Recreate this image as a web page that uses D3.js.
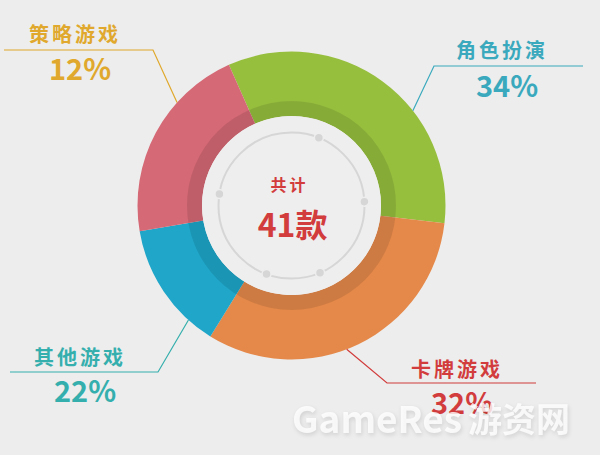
<!DOCTYPE html>
<html>
<head>
<meta charset="utf-8">
<script src="https://cdn.jsdelivr.net/npm/d3@7"></script>
<style>
  html, body { margin: 0; padding: 0; background: #ededed; }
  svg { display: block; }
  text { font-family: "Noto Sans CJK SC", "Noto Sans", sans-serif; }
</style>
</head>
<body>
<svg id="chart" width="600" height="455"></svg>
<script>
// slices, clockwise from the top-left edge of the green one
var categories = ['角色扮演', '卡牌游戏', '其他游戏', '策略游戏'];
var values = [33.5, 32, 13.5, 21];              // share of the ring
var labelPercents = ['34%', '32%', '22%', '12%']; // as printed next to each slice
var colors = ['#97bf3e', '#e5894a', '#1fa6c9', '#d56975'];
var labelColors = ['#3aa9bd', '#d23c3c', '#35afad', '#e0a82c'];
var totalLabel = '共计';
var totalValue = '41款';

var svg = d3.select('#chart');
var cx = 291.5, cy = 205.5;
var outerR = 154, ringR = 104.5, innerR = 89.5;

var pie = d3.pie().sort(null).value(function(d){ return d; })
    .startAngle(-24 * Math.PI / 180)
    .endAngle(336 * Math.PI / 180);
var arcs = pie(values);
var arc = d3.arc().innerRadius(innerR).outerRadius(outerR);

var g = svg.append('g').attr('transform', 'translate(' + cx + ',' + cy + ')');

g.selectAll('path.slice').data(arcs).enter().append('path')
    .attr('class', 'slice')
    .attr('d', arc)
    .attr('fill', function(d, i){ return colors[i]; });

// darker inner band
g.append('path')
    .attr('d', d3.arc().innerRadius(innerR).outerRadius(ringR).startAngle(0).endAngle(2 * Math.PI)())
    .attr('fill', '#000').attr('fill-opacity', 0.1);

// centre disc
g.append('circle').attr('r', innerR).attr('fill', '#eeeeee');

// thin circle with dots
g.append('circle').attr('r', 73).attr('fill', 'none')
    .attr('stroke', '#d6d6d6').attr('stroke-width', 2);
var dotAngles = [22, 87, 157, 200, 279];
g.selectAll('circle.dot').data(dotAngles).enter().append('circle')
    .attr('class', 'dot')
    .attr('cx', function(a){ return 73 * Math.sin(a * Math.PI / 180); })
    .attr('cy', function(a){ return -73 * Math.cos(a * Math.PI / 180); })
    .attr('r', 4.5)
    .attr('fill', '#d6d6d6')
    .attr('stroke', '#eeeeee').attr('stroke-width', 1.5);

g.append('text').attr('x', -2).attr('y', -15).attr('text-anchor', 'middle')
    .attr('fill', '#d23c3c').attr('font-size', 16).attr('font-weight', 'bold')
    .attr('letter-spacing', 3).text(totalLabel);
g.append('text').attr('x', 1).attr('y', 31).attr('text-anchor', 'middle')
    .attr('fill', '#d23c3c').attr('font-size', 32).attr('font-weight', 'bold')
    .text(totalValue);

// callouts: anchor angle on the ring, elbow point, end of the underline, label centre
var callouts = [
    {angle: 52,  elbow: [434, 66],  end: 583, tx: 502, nameY: 58, pctY: 97},
    {angle: 159, elbow: [387, 383], end: 536, tx: 457, nameY: 377, pctY: 414},
    {angle: 222, elbow: [158, 372], end: 10,  tx: 80,  nameY: 365, pctY: 402},
    {angle: 312, elbow: [153, 50],  end: 4,   tx: 75,  nameY: 42,  pctY: 80}
];

callouts.forEach(function(c, i) {
    var a = c.angle * Math.PI / 180;
    var p0 = [cx + outerR * Math.sin(a), cy - outerR * Math.cos(a)];
    svg.append('path')
        .attr('d', d3.line()([p0, c.elbow, [c.end, c.elbow[1]]]))
        .attr('fill', 'none').attr('stroke', labelColors[i]).attr('stroke-width', 1.2);
    svg.append('text').attr('x', c.tx).attr('y', c.nameY).attr('text-anchor', 'middle')
        .attr('fill', labelColors[i]).attr('font-size', 20).attr('font-weight', 'bold')
        .attr('letter-spacing', 3).text(categories[i]);
    svg.append('text').attr('x', c.tx + 5).attr('y', c.pctY).attr('text-anchor', 'middle')
        .attr('fill', labelColors[i]).attr('font-size', 29).attr('font-weight', 'bold')
        .attr('font-family', 'Open Sans, sans-serif')
        .text(labelPercents[i]);
});

// watermark
var wm = svg.append('g').attr('fill', '#ffffff').attr('fill-opacity', 0.8)
    .style('filter', 'drop-shadow(1px 2px 2px rgba(0,0,0,0.15))');
wm.append('text').attr('x', 292).attr('y', 433)
    .attr('font-family', 'Open Sans, sans-serif').attr('font-size', 37).attr('font-weight', 'bold')
    .text('GameRes');
wm.append('text').attr('x', 468).attr('y', 432)
    .attr('font-size', 34).attr('font-weight', 'bold').text('游资网');
</script>
</body>
</html>
